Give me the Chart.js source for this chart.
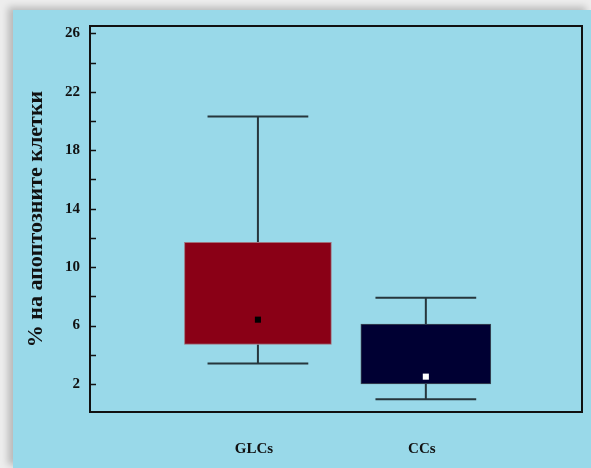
<!DOCTYPE html>
<html>
<head>
<meta charset="utf-8">
<script src="https://cdn.jsdelivr.net/npm/chart.js@4"></script>
<style>
	html, body {margin:0; padding:0; width:591px; height:468px; overflow:hidden; background:#ededed;}
	#panel {position:absolute; left:13px; top:10px; width:578px; height:458px; background:#99d9e9;
		box-shadow:-5px -3px 7px rgba(0,0,0,0.22);}
	canvas {display:block;}
</style>
</head>
<body>
<div id="panel"><canvas id="chart" width="578" height="458"></canvas></div>
<script>
var categories = ['GLCs', 'CCs'];
var q1 = [4.7, 2.0];
var q3 = [11.7, 6.1];
var whiskerMin = [3.4, 0.95];
var whiskerMax = [20.3, 7.9];
var means = [6.4, 2.5];
var yTicks = [2, 6, 10, 14, 18, 22, 26];

var boxColors = ['#8a0016', '#000033'];
var boxWidths = [147, 130];
var markerColors = ['#000000', '#ffffff'];
var capHalf = 0.3;

var serif = 'Liberation Serif';

// whisker segments, null y breaks the line
var whiskers = [];
categories.forEach((c, i)=>{
	var x = i + 1;
	whiskers.push({x:x, y:whiskerMax[i]}, {x:x, y:q3[i]}, {x:x, y:null});
	whiskers.push({x:x-capHalf, y:whiskerMax[i]}, {x:x+capHalf, y:whiskerMax[i]}, {x:x, y:null});
	whiskers.push({x:x, y:q1[i]}, {x:x, y:whiskerMin[i]}, {x:x, y:null});
	whiskers.push({x:x-capHalf, y:whiskerMin[i]}, {x:x+capHalf, y:whiskerMin[i]}, {x:x, y:null});
});

var datasets = [{
	type:'line',
	data: whiskers,
	borderColor:'#26363c',
	borderWidth:2,
	pointRadius:0,
	spanGaps:false,
	order:3
}];
categories.forEach((c, i)=>{
	datasets.push({
		type:'bar',
		data:[{x:i+1, y:[q1[i], q3[i]]}],
		backgroundColor: boxColors[i],
		borderColor: i==0 ? '#a0707a' : '#3c4a55',
		borderWidth:1,
		borderSkipped:false,
		barThickness: boxWidths[i],
		grouped:false,
		order:2
	});
});
datasets.push({
	type:'scatter',
	data: means.map((m, i)=>({x:i+1, y:m})),
	pointStyle:'rect',
	pointRadius:4.3,
	pointBackgroundColor: markerColors,
	pointBorderWidth:0,
	order:1
});

// frame and inward tick marks
var framePlugin = {
	id:'frame',
	afterDraw(chart) {
		var ctx = chart.ctx, a = chart.chartArea, ys = chart.scales.y;
		ctx.save();
		ctx.strokeStyle = '#111';
		ctx.lineWidth = 1.5;
		for (var v = 2; v <= 26; v += 2) {
			var py = Math.round(ys.getPixelForValue(v)) + 0.5;
			ctx.beginPath();
			ctx.moveTo(a.left, py);
			ctx.lineTo(a.left + 6, py);
			ctx.stroke();
		}
		ctx.lineWidth = 2;
		ctx.strokeRect(a.left, a.top, a.right - a.left, a.bottom - a.top);
		ctx.restore();
	}
};

new Chart(document.getElementById('chart'), {
	type:'scatter',
	data:{datasets:datasets},
	plugins:[framePlugin],
	options:{
		responsive:false,
		animation:false,
		layout:{padding:{left:0, right:9, top:16, bottom:0}},
		plugins:{legend:{display:false}, tooltip:{enabled:false}},
		scales:{
			x:{
				type:'linear',
				offset:false,
				min:0, max:2.93,
				grid:{display:false, drawTicks:false, offset:false},
				border:{display:false},
				afterBuildTicks:(s)=>{ s.ticks = categories.map((c, i)=>({value:i+1})); },
				ticks:{
					padding:28,
					labelOffset:-4,
					color:'#111',
					font:{family:serif, size:15, weight:'bold'},
					callback:(v)=>categories[v-1]
				},
				afterFit:(s)=>{ s.height = 56; s.paddingLeft = 0; s.paddingRight = 0; }
			},
			y:{
				type:'linear',
				min:0.08, max:26.5,
				grid:{display:false, drawTicks:false},
				border:{display:false},
				afterBuildTicks:(s)=>{ s.ticks = yTicks.map(v=>({value:v})); },
				ticks:{
					padding:10,
					color:'#111',
					font:{family:serif, size:15, weight:'bold'}
				},
				title:{
					display:true,
					text:'% на апоптозните клетки',
					color:'#111',
					font:{family:serif, size:22, weight:'bold'},
					padding:{top:10, bottom:0}
				},
				afterFit:(s)=>{ s.width = 77; s.paddingTop = 0; s.paddingBottom = 0; }
			}
		}
	}
});
</script>
</body>
</html>
